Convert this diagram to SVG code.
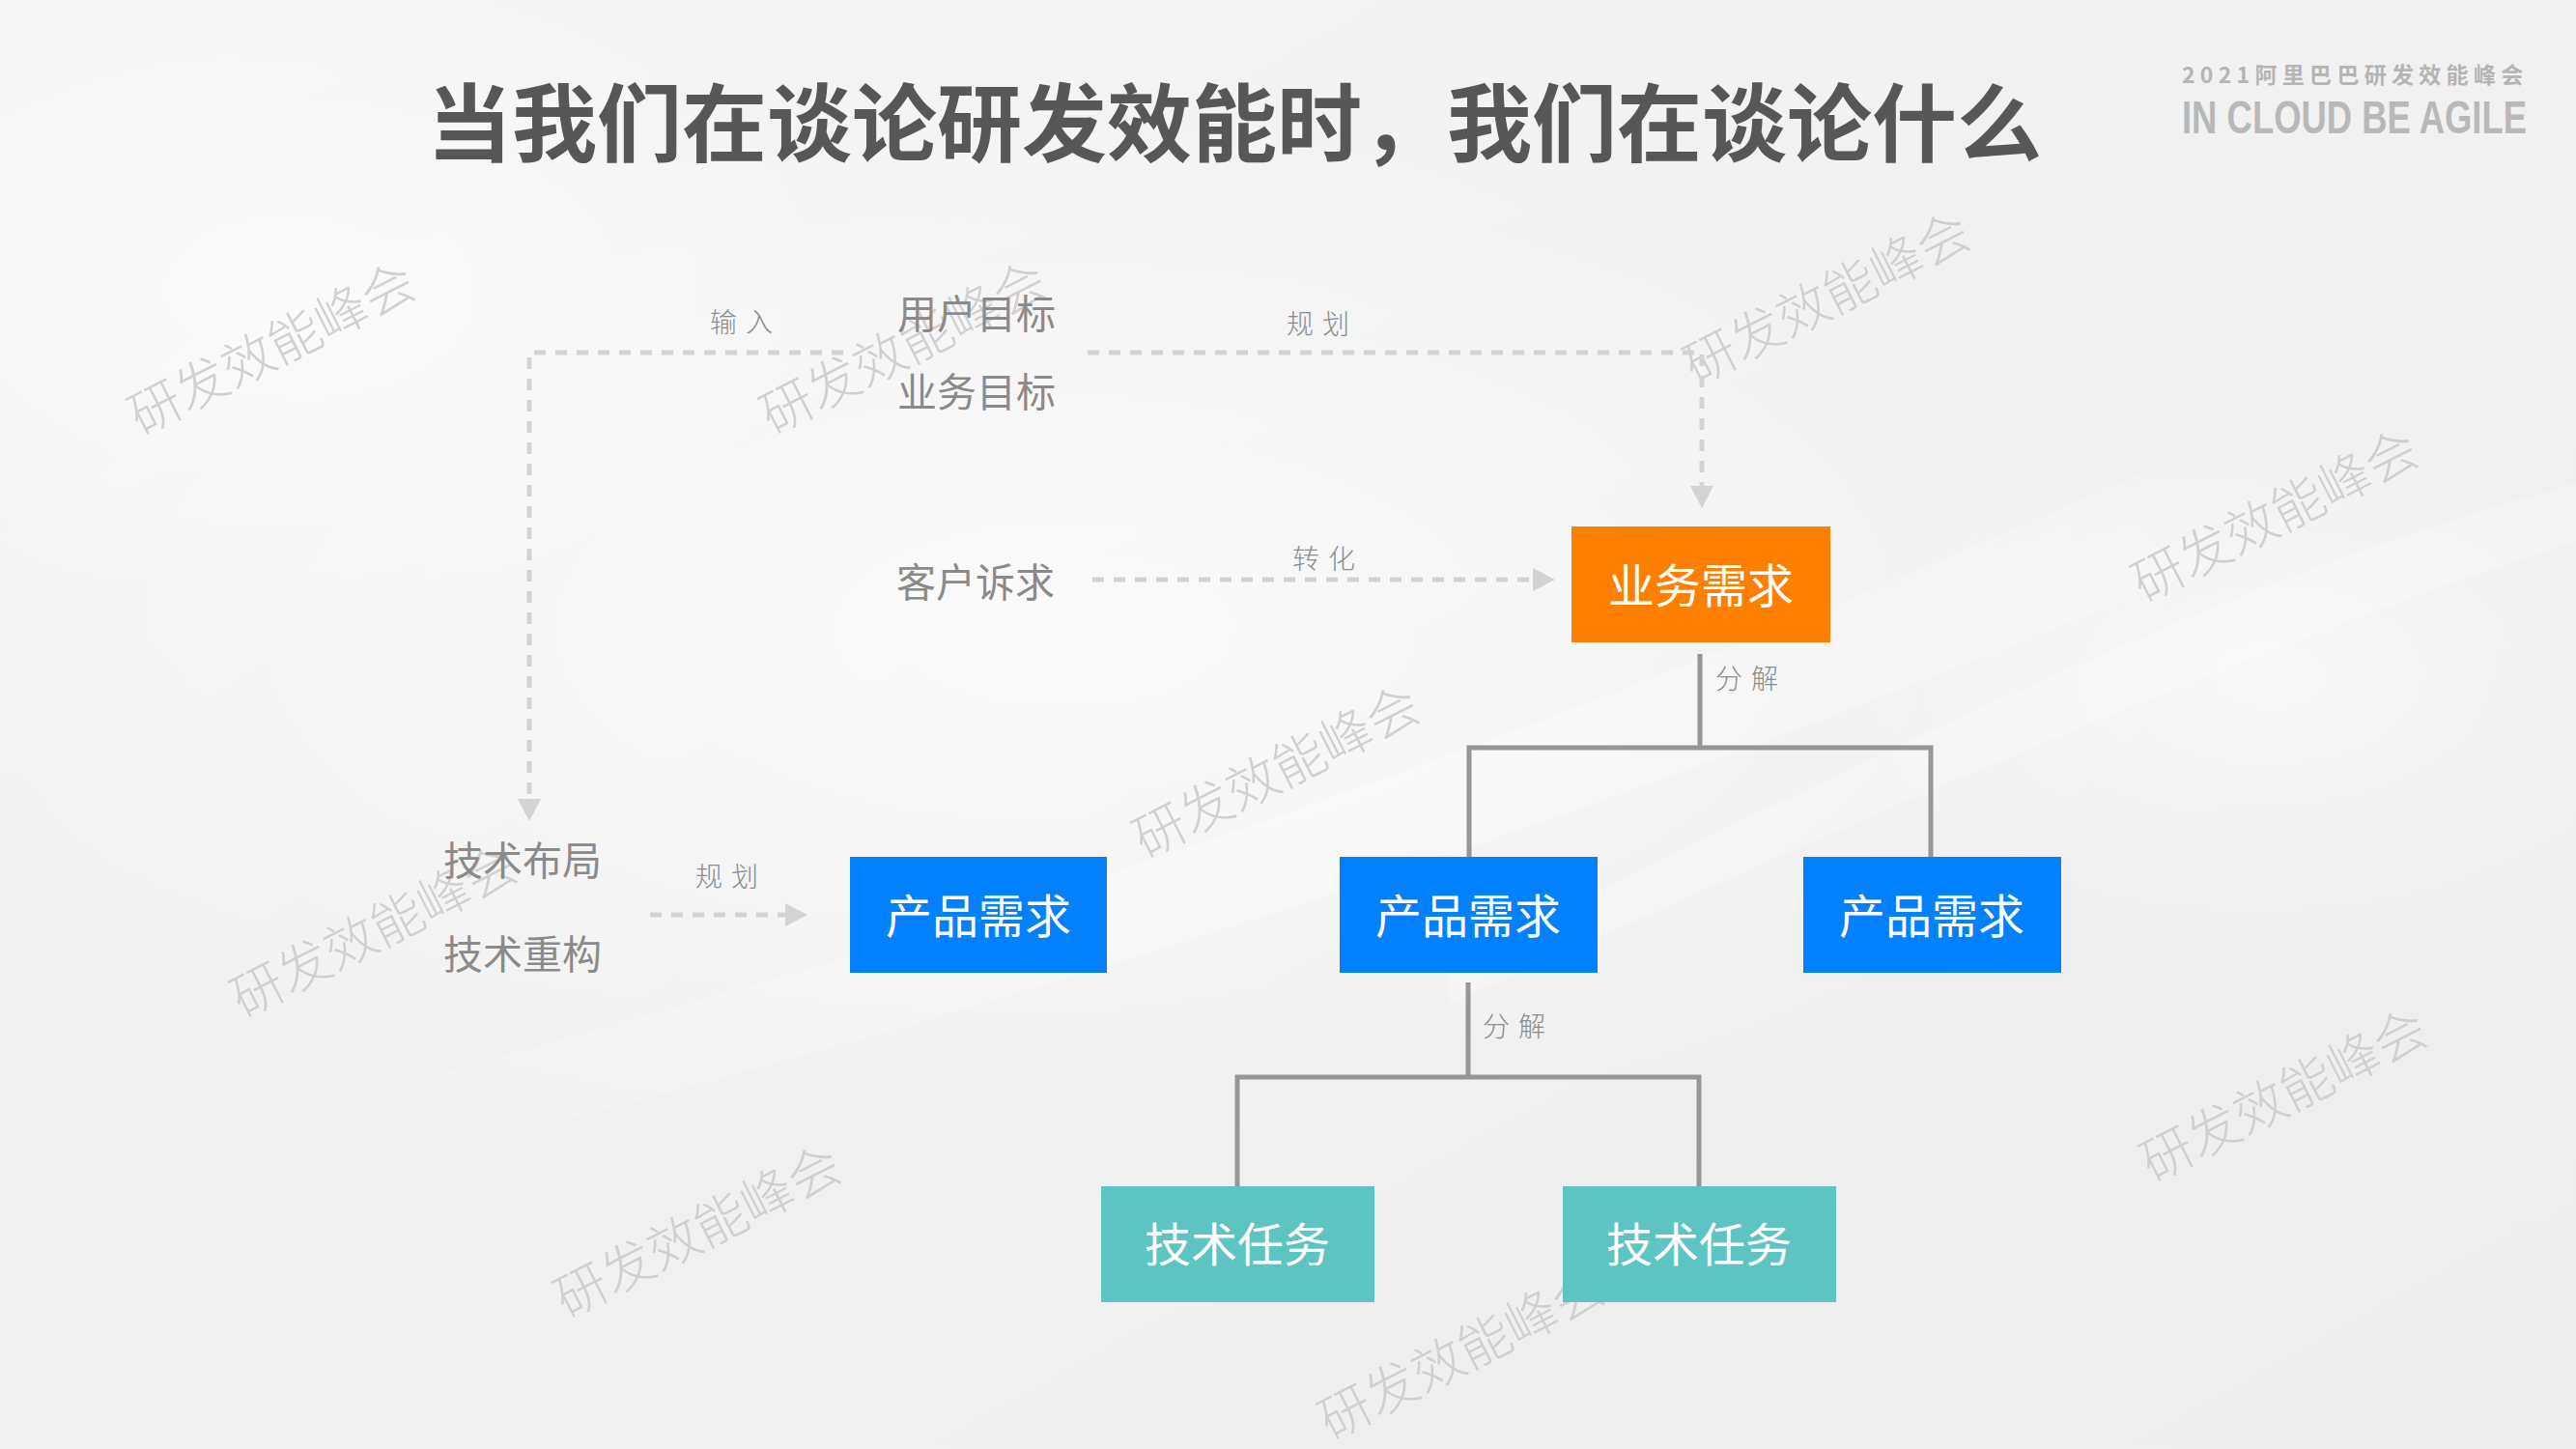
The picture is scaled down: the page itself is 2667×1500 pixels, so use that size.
<svg xmlns="http://www.w3.org/2000/svg" width="2667" height="1500" viewBox="0 0 2667 1500">
  <defs>
    <linearGradient id="bg" x1="0" y1="0" x2="1" y2="1">
      <stop offset="0" stop-color="#f6f6f6"/>
      <stop offset="0.5" stop-color="#f1f1f1"/>
      <stop offset="1" stop-color="#ededed"/>
    </linearGradient>
    <radialGradient id="glow1" cx="0.5" cy="0.5" r="0.5">
      <stop offset="0" stop-color="#ffffff" stop-opacity="0.95"/>
      <stop offset="1" stop-color="#ffffff" stop-opacity="0"/>
    </radialGradient>
    <linearGradient id="streak" x1="0" y1="1" x2="1" y2="0">
      <stop offset="0" stop-color="#ffffff" stop-opacity="0"/>
      <stop offset="0.5" stop-color="#ffffff" stop-opacity="0.85"/>
      <stop offset="1" stop-color="#ffffff" stop-opacity="0"/>
    </linearGradient>
    <marker id="arrow" viewBox="0 0 23 24" refX="0" refY="12" markerWidth="23" markerHeight="24" markerUnits="userSpaceOnUse" orient="auto">
      <polygon points="0,0 23,12 0,24" fill="#d3d3d3"/>
    </marker>
    <style>
      .dash { fill: none; stroke: #d3d3d3; stroke-width: 5; stroke-dasharray: 12 10; }
      .tree { fill: none; stroke: #969696; stroke-width: 5; }
      .wm { font-family: "Noto Sans CJK SC", sans-serif; font-weight: 300; font-size: 54px; fill: #c9c9c9; fill-opacity: 0.85; text-anchor: middle; }
      .lbl { font-family: "Noto Sans CJK SC", sans-serif; font-weight: 400; font-size: 41px; fill: #8a8a8a; }
      .small { font-family: "Noto Sans CJK SC", sans-serif; font-weight: 300; font-size: 28px; fill: #8c8c8c; letter-spacing: 9px; }
      .box-text { font-family: "Noto Sans CJK SC", sans-serif; font-weight: 400; font-size: 48px; fill: #ffffff; text-anchor: middle; }
      .orange { fill: #ff8000; }
      .blue { fill: #0380fc; }
      .teal { fill: #5ec4c3; }
    </style>
  </defs>

  <!-- background -->
  <rect x="0" y="0" width="2667" height="1500" fill="url(#bg)"/>
  <ellipse cx="1100" cy="650" rx="1200" ry="550" fill="url(#glow1)" opacity="0.7"/>
  <ellipse cx="300" cy="300" rx="600" ry="350" fill="url(#glow1)" opacity="0.6"/>
  <ellipse cx="2350" cy="700" rx="450" ry="260" fill="url(#glow1)" opacity="0.6"/>
  <path d="M 0 1230 C 700 1050 1500 850 2667 280 L 2667 420 C 1600 900 800 1120 0 1300 Z" fill="url(#streak)" opacity="0.4"/>
  <path d="M 1500 1000 C 1900 800 2300 600 2667 500 L 2667 560 C 2300 680 1900 860 1500 1040 Z" fill="#ffffff" opacity="0.25"/>

  <!-- watermarks -->
  <g id="watermarks">
    <text class="wm" transform="translate(290,378) rotate(-27)">研发效能峰会</text>
    <text class="wm" transform="translate(944,377) rotate(-27)">研发效能峰会</text>
    <text class="wm" transform="translate(1900,326) rotate(-27)">研发效能峰会</text>
    <text class="wm" transform="translate(2364,551) rotate(-27)">研发效能峰会</text>
    <text class="wm" transform="translate(1330,816) rotate(-27)">研发效能峰会</text>
    <text class="wm" transform="translate(396,981) rotate(-27)">研发效能峰会</text>
    <text class="wm" transform="translate(731,1292) rotate(-27)">研发效能峰会</text>
    <text class="wm" transform="translate(2373,1151) rotate(-27)">研发效能峰会</text>
    <text class="wm" transform="translate(1522,1418) rotate(-27)">研发效能峰会</text>
  </g>

  <!-- title -->
  <g id="title">
    <text x="442" y="160" font-family="Noto Sans CJK SC, sans-serif" font-weight="700" font-size="88" fill="#575757">当我们在谈论研发效能时，我们在谈论什么</text>
  </g>
  <g id="logo">
    <text x="2259" y="86" font-family="Noto Sans CJK SC, sans-serif" font-weight="700" font-size="23" fill="#b4b4b4" letter-spacing="5.3">2021阿里巴巴研发效能峰会</text>
    <text x="2259" y="138" font-family="Liberation Sans, Arial, sans-serif" font-weight="700" font-size="48" fill="#b8b8b8" textLength="357" lengthAdjust="spacingAndGlyphs">IN CLOUD BE AGILE</text>
  </g>

  <!-- connectors -->
  <g id="connectors">
    <path class="dash" d="M 873 365 H 548 V 827" marker-end="url(#arrow)"/>
    <path class="dash" d="M 1126 365 H 1762 V 503" marker-end="url(#arrow)"/>
    <path class="dash" d="M 1131 600 H 1587" marker-end="url(#arrow)"/>
    <path class="dash" d="M 673 947 H 813" marker-end="url(#arrow)"/>
    <path class="tree" d="M 1760 677 V 774"/>
    <path class="tree" d="M 1521 887 V 774 H 1999 V 887"/>
    <path class="tree" d="M 1520 1017 V 1115"/>
    <path class="tree" d="M 1281 1228 V 1115 H 1759 V 1228"/>
    <text class="small" x="735" y="344">输入</text>
    <text class="small" x="1332" y="346">规划</text>
    <text class="small" x="1338" y="589">转化</text>
    <text class="small" x="1776" y="713">分解</text>
    <text class="small" x="720" y="918">规划</text>
    <text class="small" x="1535" y="1073">分解</text>
  </g>

  <!-- plain text nodes -->
  <g id="node-user-goal"><text class="lbl" x="929" y="340">用户目标</text></g>
  <g id="node-biz-goal"><text class="lbl" x="929" y="421">业务目标</text></g>
  <g id="node-customer"><text class="lbl" x="928" y="618">客户诉求</text></g>
  <g id="node-tech-layout"><text class="lbl" x="459" y="906">技术布局</text></g>
  <g id="node-tech-refactor"><text class="lbl" x="459" y="1003">技术重构</text></g>

  <!-- boxes -->
  <g id="node-biz-req">
    <rect class="orange" x="1627" y="545" width="268" height="120"/>
    <text class="box-text" x="1761" y="624">业务需求</text>
  </g>
  <g id="node-prod-1">
    <rect class="blue" x="880" y="887" width="266" height="120"/>
    <text class="box-text" x="1013" y="966">产品需求</text>
  </g>
  <g id="node-prod-2">
    <rect class="blue" x="1387" y="887" width="267" height="120"/>
    <text class="box-text" x="1520" y="966">产品需求</text>
  </g>
  <g id="node-prod-3">
    <rect class="blue" x="1867" y="887" width="267" height="120"/>
    <text class="box-text" x="2000" y="966">产品需求</text>
  </g>
  <g id="node-task-1">
    <rect class="teal" x="1140" y="1228" width="283" height="120"/>
    <text class="box-text" x="1281" y="1306">技术任务</text>
  </g>
  <g id="node-task-2">
    <rect class="teal" x="1618" y="1228" width="283" height="120"/>
    <text class="box-text" x="1759" y="1306">技术任务</text>
  </g>
</svg>
